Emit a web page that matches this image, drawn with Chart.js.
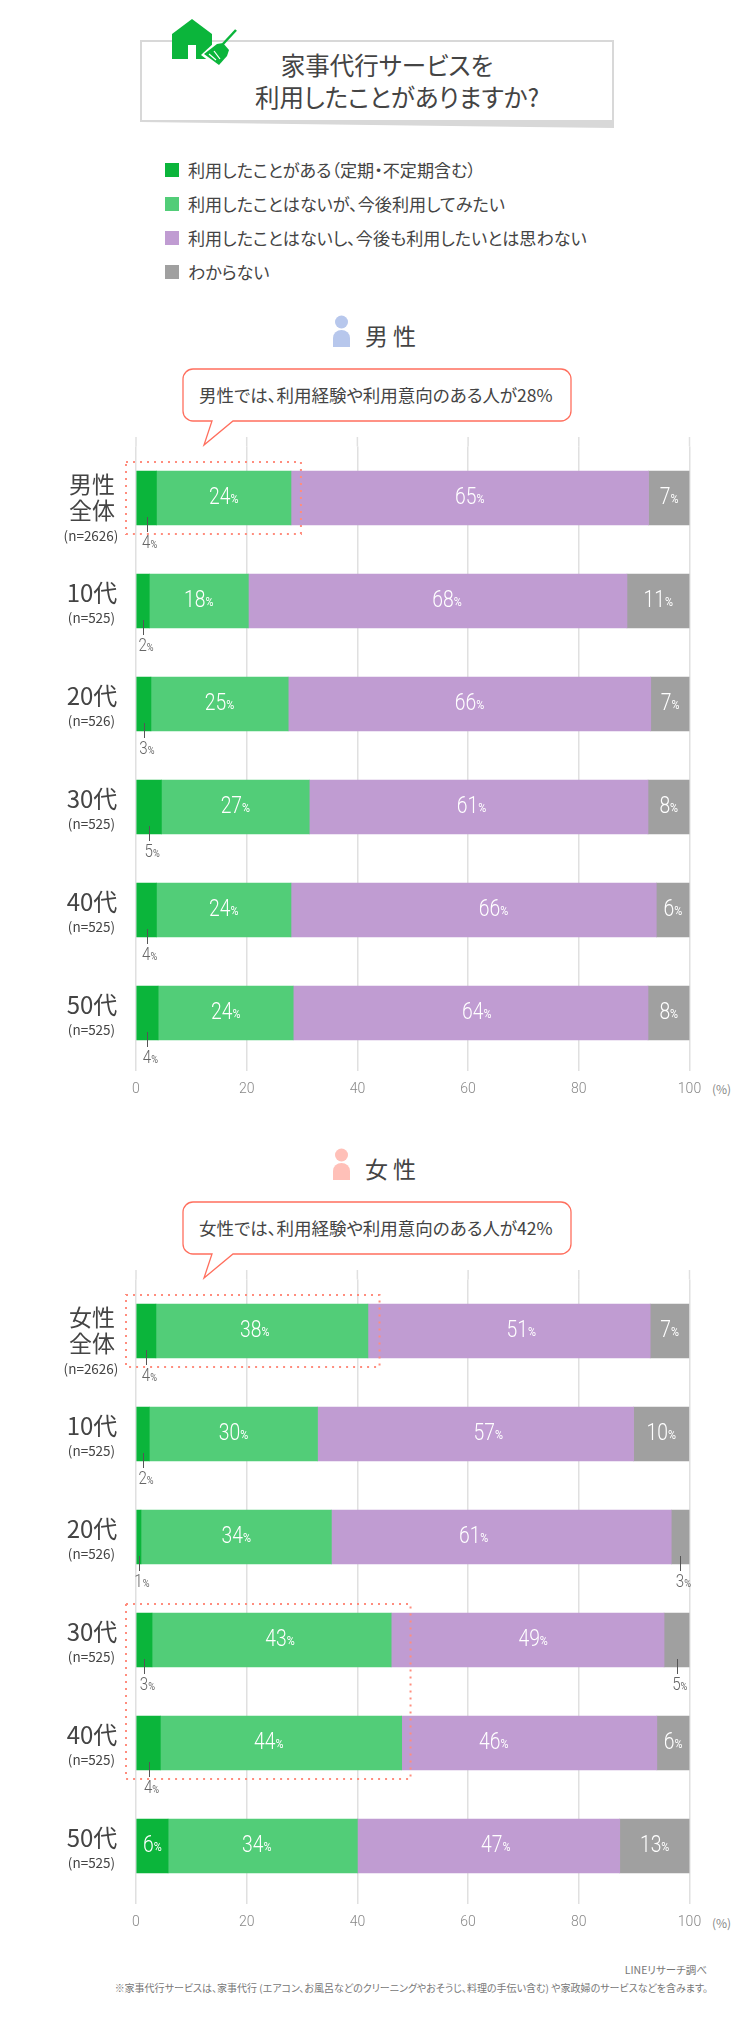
<!DOCTYPE html>
<html lang="ja"><head><meta charset="utf-8">
<script src="https://cdn.jsdelivr.net/npm/chart.js@4"></script>
<style>
html,body{margin:0;padding:0;background:#fff}
body{width:750px;height:2029px;position:relative;overflow:hidden;font-family:"Noto Sans CJK JP",sans-serif;color:#444;font-feature-settings:"palt"}
.t{position:absolute;white-space:nowrap;transform:translateY(-50%);line-height:1}
.c{transform:translate(-50%,-50%);text-align:center}
.s{position:absolute;width:14px;height:14px}
svg.o{position:absolute;left:0;top:0}
canvas{position:absolute;left:0}
</style></head><body>
<svg class="o" width="750" height="2029">
  <polygon points="140,122 614,122 614,128" fill="#d8d8d8"/>
  <rect x="141" y="41" width="472" height="80" fill="#fff" stroke="#d8d8d8" stroke-width="2"/>
  <polygon points="172,34 192,19 212,34 212,59 196,59 196,45 188,45 188,59 172,59" fill="#0bb53b"/>
  <polygon points="201,55 215,42 229,55 218,68" fill="#fff"/>
  <line x1="236" y1="30" x2="223" y2="44" stroke="#0bb53b" stroke-width="2.5"/>
  <polygon points="217,44 223,43 229,50 227,56 219,65 204,54" fill="#0bb53b"/>
  <line x1="209" y1="54" x2="216" y2="60" stroke="#fff" stroke-width="1.2"/>
  <line x1="214" y1="51" x2="220" y2="59" stroke="#fff" stroke-width="1.2"/>
  <circle cx="341.5" cy="322" r="6.5" fill="#b7c7ec"/><path d="M333 347V338a8.5 8 0 0 1 17 0V347Z" fill="#b7c7ec"/>
  <circle cx="341.5" cy="1155" r="6.5" fill="#ffc0b8"/><path d="M333 1180V1171a8.5 8 0 0 1 17 0V1180Z" fill="#ffc0b8"/>
  <path d="M193 369H561a10 10 0 0 1 10 10V411a10 10 0 0 1 -10 10H233L204 445L212 421H193a10 10 0 0 1 -10 -10V379a10 10 0 0 1 10 -10Z" fill="#fff" stroke="#ff6f5e" stroke-width="1.3"/>
  <path d="M193 1202H561a10 10 0 0 1 10 10V1244a10 10 0 0 1 -10 10H233L204 1278L212 1254H193a10 10 0 0 1 -10 -10V1212a10 10 0 0 1 10 -10Z" fill="#fff" stroke="#ff6f5e" stroke-width="1.3"/>
</svg>
<div class="t c" style="left:387px;top:65px;font-size:24.5px">家事代行サービスを</div>
<div class="t c" style="left:397px;top:97px;font-size:24.5px;transform:translate(-50%,-50%)">利用したことがありますか?</div>
<div class="s" style="left:165px;top:163px;background:#0bb53b"></div><div class="t" style="left:188px;top:170px;font-size:17.1px">利用したことがある（定期・不定期含む）</div>
<div class="s" style="left:165px;top:197px;background:#52cd78"></div><div class="t" style="left:188px;top:204px;font-size:17.1px">利用したことはないが、今後利用してみたい</div>
<div class="s" style="left:165px;top:231px;background:#c09cd2"></div><div class="t" style="left:188px;top:238px;font-size:17.1px">利用したことはないし、今後も利用したいとは思わない</div>
<div class="s" style="left:165px;top:265px;background:#a0a0a0"></div><div class="t" style="left:188px;top:272px;font-size:17.1px">わからない</div>
<div class="t" style="left:365px;top:335px;font-size:23px;letter-spacing:5px">男性</div>
<div class="t" style="left:365px;top:1168px;font-size:23px;letter-spacing:5px">女性</div>
<div class="t" style="left:199px;top:395px;font-size:17.5px">男性では、利用経験や利用意向のある人が28%</div>
<div class="t" style="left:199px;top:1228px;font-size:17.5px">女性では、利用経験や利用意向のある人が42%</div>
<div class="t" style="left:712px;top:1089px;font-size:12px;color:#888">(%)</div>
<div class="t" style="left:712px;top:1923px;font-size:12px;color:#888">(%)</div>
<div class="t" style="right:43px;top:1970px;font-size:10.5px;color:#777">LINEリサーチ調べ</div>
<div class="t" style="right:42px;top:1988px;font-size:10px;color:#777">※家事代行サービスは、家事代行 (エアコン、お風呂などのクリーニングやおそうじ、料理の手伝い含む) や家政婦のサービスなどを含みます。</div>
<canvas id="male" width="750" height="720" style="top:400px;width:750px;height:720px"></canvas>
<canvas id="female" width="750" height="720" style="top:1233px;width:750px;height:720px"></canvas>
<script>
// ---- data (percent) ----
const seriesNames = ['利用したことがある(定期・不定期含む)','利用したことはないが、今後利用してみたい','利用したことはないし、今後も利用したいとは思わない','わからない'];
const maleCategories = [['男性','全体'],['10代'],['20代'],['30代'],['40代'],['50代']];
const femaleCategories = [['女性','全体'],['10代'],['20代'],['30代'],['40代'],['50代']];
const maleCounts = ['(n=2626)','(n=525)','(n=526)','(n=525)','(n=525)','(n=525)'];
const femaleCounts = ['(n=2626)','(n=525)','(n=526)','(n=525)','(n=525)','(n=525)'];
const maleUsed   = [3.7, 2.4, 2.7, 4.6, 3.7, 4.0];
const maleWant   = [24.3, 17.9, 24.8, 26.7, 24.3, 24.4];
const maleNot    = [64.6, 68.4, 65.5, 61.2, 66.0, 64.1];
const maleDunno  = [7.4, 11.3, 7.0, 7.5, 6.0, 7.5];
const femaleUsed  = [3.6, 2.4, 0.9, 2.9, 4.4, 5.8];
const femaleWant  = [38.3, 30.4, 34.4, 43.2, 43.6, 34.2];
const femaleNot   = [51.0, 57.1, 61.4, 49.3, 46.1, 47.4];
const femaleDunno = [7.0, 10.0, 3.3, 4.6, 5.9, 12.6];
const axisTicks = [0,20,40,60,80,100];
const seriesColors = ['#0bb53b','#52cd78','#c09cd2','#a0a0a0'];
// where the reference nudges a label away from its segment centre: [row, series, percent points]
const maleNudges = [[1,2,1.7],[3,2,-1.3],[4,2,3.6],[5,2,1.1]];
const femaleNudges = [[0,1,-1.3],[0,2,2.2],[1,2,2.3],[2,2,-5],[3,1,1.5],[3,2,1],[4,1,-2.2],[4,2,-6.4],[5,1,-1.1],[5,2,1.3]];
// dotted highlights: [first row, last row, right edge in percent]
const maleHighlights = [[0,0,29.8]];
const femaleHighlights = [[0,0,44],[3,4,49.6]];

const NUM = 'Roboto,"Noto Sans CJK JP",sans-serif';
const JP = '"Noto Sans CJK JP",sans-serif';
const annotate = {
  id:'annotate',
  afterDatasetsDraw(chart, _a, o){
    const {ctx, scales:{x,y}, chartArea:a} = chart;
    ctx.save();
    ctx.strokeStyle='#e0e0e0'; ctx.lineWidth=1.5;
    x.ticks.forEach(t=>{const p=x.getPixelForValue(t.value);ctx.beginPath();ctx.moveTo(p,a.top-9.5);ctx.lineTo(p,a.top);ctx.stroke();});
    ctx.textBaseline='middle';
    o.categories.forEach((lines,i)=>{
      const c=y.getPixelForValue(i);
      ctx.fillStyle='#444'; ctx.textAlign='center';
      if(lines.length===2){
        ctx.font='23px '+JP;
        ctx.fillText(lines[0],92,c-14); ctx.fillText(lines[1],92,c+12);
        ctx.font='13.5px '+JP; ctx.fillText(o.counts[i],91,c+38);
      } else {
        ctx.font='24px '+JP;
        ctx.fillText(lines[0],92,c-8);
        ctx.font='13.5px '+JP; ctx.fillText(o.counts[i],91.5,c+17);
      }
    });
    chart.data.datasets.forEach((ds,d)=>{
      const m=chart.getDatasetMeta(d);
      ds.data.forEach((v,i)=>{
        const el=m.data[i], num=String(Math.round(v));
        const mid=(el.x+el.base)/2, bottom=el.y+el.height/2;
        if(Math.round(v)<=5){
          ctx.strokeStyle='#555'; ctx.lineWidth=1;
          ctx.beginPath(); ctx.moveTo(Math.round(mid)+.5,bottom-8); ctx.lineTo(Math.round(mid)+.5,bottom+7); ctx.stroke();
          drawVal(ctx,num,mid+3,bottom+18,'#666',18,11);
        } else {
          const n=o.nudges.find(e=>e[0]===i&&e[1]===d);
          const shift=n? n[2]*(x.getPixelForValue(100)-x.getPixelForValue(0))/100:0;
          drawVal(ctx,num,mid+shift,el.y,'#fff',23,13);
        }
      });
    });
    ctx.strokeStyle='#ff8d7e'; ctx.lineWidth=2; ctx.setLineDash([2,5]);
    const half=chart.getDatasetMeta(0).data[0].height/2;
    o.highlights.forEach(h=>{
      const top=y.getPixelForValue(h[0])-half-9, bot=y.getPixelForValue(h[1])+half+9;
      ctx.strokeRect(126,top,x.getPixelForValue(h[2])-126,bot-top);
    });
    ctx.restore();
  }
};
function drawVal(ctx,num,cx,cy,color,big,small){
  ctx.save();
  ctx.translate(cx,cy); ctx.scale(.84,1);
  ctx.fillStyle=color; ctx.textAlign='left';
  ctx.font='300 '+big+'px '+NUM; const w1=ctx.measureText(num).width;
  ctx.font=small+'px '+NUM; const w2=ctx.measureText('%').width;
  const l=-(w1+w2)/2;
  ctx.font='300 '+big+'px '+NUM; ctx.fillText(num,l,0);
  ctx.font=small+'px '+NUM; ctx.fillText('%',l+w1,2);
  ctx.restore();
}
function build(id,cats,counts,series,nudges,highlights){
  return new Chart(document.getElementById(id),{
    type:'bar',
    data:{labels:cats.map(c=>c.join('')),datasets:series.map((d,i)=>({label:seriesNames[i],data:d,backgroundColor:seriesColors[i],borderWidth:0,barThickness:54}))},
    options:{
      indexAxis:'y',responsive:false,animation:false,devicePixelRatio:1,
      layout:{padding:{left:136,right:60.5,top:46.5,bottom:10.5}},
      plugins:{legend:{display:false},tooltip:{enabled:false},annotate:{categories:cats,counts,nudges,highlights}},
      scales:{
        x:{stacked:true,min:0,max:100,afterBuildTicks(s){s.ticks=axisTicks.map(v=>({value:v}));},
           afterFit(s){s.height=45;},
           border:{display:false},
           grid:{color:'#e0e0e0',lineWidth:1.5,drawTicks:true,tickLength:6.5},
           ticks:{padding:10,maxRotation:0,color:'#888',font:{family:NUM,size:14,weight:'300'}}},
        y:{stacked:true,display:true,border:{display:false},grid:{display:false},ticks:{display:false},afterFit(s){s.width=0;}}
      }
    },
    plugins:[annotate]
  });
}
build('male',maleCategories,maleCounts,[maleUsed,maleWant,maleNot,maleDunno],maleNudges,maleHighlights);
build('female',femaleCategories,femaleCounts,[femaleUsed,femaleWant,femaleNot,femaleDunno],femaleNudges,femaleHighlights);
</script>
</body></html>
